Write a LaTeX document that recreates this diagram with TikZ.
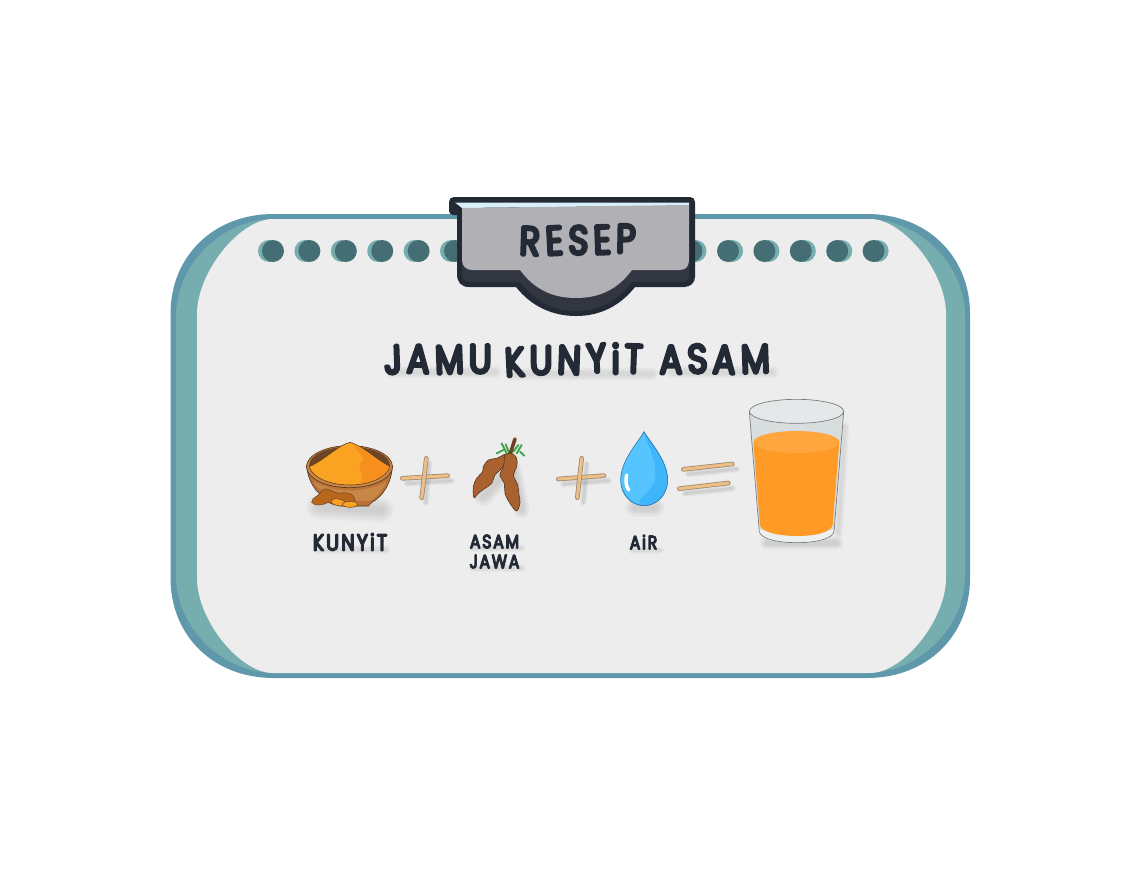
\documentclass[tikz,border=0pt]{standalone}
\usepackage{fontspec}
\newfontfamily\hand[UprightFont=* Light,FakeBold=9,FakeStretch=.84]{Poppins}
\newfontfamily\handS[UprightFont=* Light,FakeBold=8,FakeStretch=.84,LetterSpace=11]{Poppins}
\usetikzlibrary{calc}
\definecolor{cBlue}{HTML}{6098AB}
\definecolor{cTeal}{HTML}{76ADAF}
\definecolor{cCard}{HTML}{EDEDED}
\definecolor{cDot}{HTML}{456E74}
\definecolor{cInk}{HTML}{232A36}
\definecolor{cBand}{HTML}{313640}
\definecolor{cTag}{HTML}{B1B0B5}
\definecolor{cHi}{HTML}{D8F0FA}
\definecolor{cStick}{HTML}{EDBE85}
\definecolor{cStickE}{HTML}{A08B73}
\definecolor{cBowl}{HTML}{B8723A}
\definecolor{cBowlL}{HTML}{C98746}
\definecolor{cBowlD}{HTML}{6E4526}
\definecolor{cOr}{HTML}{FAA322}
\definecolor{cOrD}{HTML}{F78F1E}
\definecolor{cPod}{HTML}{A9622F}
\definecolor{cPodE}{HTML}{5E3A20}
\definecolor{cLeaf}{HTML}{3DA34A}
\definecolor{cDrop}{HTML}{3FB5FC}
\definecolor{cDropL}{HTML}{55C4FF}
\definecolor{cJuice}{HTML}{FF9A27}
\definecolor{cJuiceT}{HTML}{FFA63F}
\definecolor{cGlass}{HTML}{D8DEDE}
\newcommand\cardshape[8]{% fill, l,t,r,b,rx,ry,k
  \fill[#1] (#2,#3+#7) .. controls (#2,#3+#7*#8) and (#2+#6*#8,#3) .. (#2+#6,#3)
   -- (#4-#6,#3) .. controls (#4-#6*#8,#3) and (#4,#3+#7*#8) .. (#4,#3+#7)
   -- (#4,#5-#7) .. controls (#4,#5-#7*#8) and (#4-#6*#8,#5) .. (#4-#6,#5)
   -- (#2+#6,#5) .. controls (#2+#6*#8,#5) and (#2,#5-#7*#8) .. (#2,#5-#7) -- cycle;}
\newcommand\softbar[3]{% from, to, base width (px)
  \foreach \w in {1,1.5,2,2.5,3,3.5}{
    \draw[black,opacity=.018,line cap=round,line width=#3*\w*.3pt] #1 -- #2;}}
\newcommand\softtext[3]{%
  \foreach \w in {1,1.5,2,2.5,3,3.5,4}{
    \draw[black,opacity=.012,line cap=round,line width=#3*\w*.3pt] #1 -- #2;}}
\newcommand\stick[2]{%
  \draw[cStickE,line width=3.5pt,line cap=round] #1 -- #2;
  \draw[cStick,line width=2.3pt,line cap=round] #1 -- #2;}
\newcommand\jl[3]{\raisebox{#1pt}{\rotatebox[origin=c]{#2}{#3}}\kern3.8pt}
\tikzset{
  hd/.style={text=cInk,inner sep=0pt,align=center},
  dotdark/.style={fill=cDot},
  dotlight/.style={fill=cTeal},
}
\begin{document}
\begin{tikzpicture}[x=.75pt,y=-.75pt]
\useasboundingbox (0,0) rectangle (1141,874);
\fill[white] (0,0) rectangle (1141,874);
% board
\cardshape{cBlue}{170.5}{214}{970}{678}{103}{100}{.42}
\cardshape{cTeal}{176}{219}{965}{673}{98}{97}{.47}
\cardshape{cCard}{197}{219}{946}{673}{76}{95}{.56}
% rings
\foreach \c in {273,309.4,345.8,382.2,418.6,455}{
  \fill[dotlight] (\c-4,251) circle (11);
  \fill[dotdark] (\c,251) circle (11);}
\foreach \c in {691.5,728,764.4,800.8,837.2,873.6}{
  \fill[dotlight] (\c+4,251) circle (11);
  \fill[dotdark] (\c,251) circle (11);}
% tag
\fill[cInk] (454,197) -- (690,197) .. controls (693,197) and (695,199) .. (695,202) -- (695,277)
  .. controls (695,283) and (690,287) .. (684,287) -- (635,287)
  .. controls (620,306) and (600,316) .. (576,316) .. controls (552,316) and (531,306) .. (516,287)
  -- (469,287) .. controls (461,287) and (457,282) .. (457,274) -- (457,215) -- (453,215)
  .. controls (451,215) and (449,213) .. (449,211) -- (449,202) .. controls (449,199) and (451,197) .. (454,197) -- cycle;
\fill[cBand] (462,205) -- (689,205) -- (689,276) .. controls (689,280) and (686,282) .. (682,282) -- (632,282)
  .. controls (618,300) and (600,311) .. (576,311) .. controls (552,311) and (534,300) .. (520,282)
  -- (470,282) .. controls (465,282) and (462,279) .. (462,275) -- cycle;
\fill[cHi] (455,202.5) -- (689,202.5) -- (689,205.5) -- (462,208) -- cycle;
\fill[cTag] (462,208) -- (689,205) -- (689,260) .. controls (689,266) and (686,270) .. (680,270) -- (632,270)
  .. controls (618,289) and (600,298) .. (576,298) .. controls (552,298) and (534,289) .. (520,270)
  -- (472,270) .. controls (466,270) and (462,266) .. (462,260) -- cycle;
\node[hd,font=\hand\fontsize{30pt}{30pt}\selectfont,rotate=1] (resep) at (580,240) {\pgfsetroundjoin\pgfsetroundcap \jl{0}{-3}{R}\jl{0}{2}{E}\jl{0}{-2}{S}\jl{0}{1}{E}\jl{.5}{-2}{P}};
% title
\softtext{(392,372)}{(495,372)}{9}
\softtext{(512,374)}{(652,374)}{9}
\softtext{(672,372)}{(772,372)}{9}
\node[hd,font=\hand\fontsize{30pt}{30pt}\selectfont] (title) at (579.5,360) {\pgfsetroundjoin\pgfsetroundcap \jl{0}{2}{J}\jl{.5}{-2}{A}\jl{0}{2}{M}\jl{.5}{0}{U}\hspace{6pt}\jl{-2}{3}{K}\jl{-.5}{0}{U}\jl{-.5}{-2}{N}\jl{1}{3}{Y}\jl{0}{0}{i}\jl{.5}{-2}{T}\hspace{9pt}\jl{0}{0}{A}\jl{.5}{3}{S}\jl{0}{-2}{A}\jl{.5}{2}{M}};
% bowl
\begin{scope}[shift={(295,425)},x=.25pt,y=-.25pt]
  \softbar{(70,245)}{(260,255)}{18}
  \draw[cBowlD!80!black,fill=cBowl,line width=.5pt] (35,120) .. controls (40,190) and (85,225) .. (130,235) -- (135,243) -- (220,243) -- (230,232)
     .. controls (265,215) and (290,170) .. (292,125) -- cycle;
  \fill[cBowlL] (55,170) .. controls (120,205) and (210,205) .. (275,170) .. controls (258,205) and (235,222) .. (225,228) -- (135,225) .. controls (100,215) and (72,195) .. (55,170) -- cycle;
  \draw[cBowlD!80!black,fill=cBowlL,line width=.5pt] (163.5,125) ellipse (129 and 63);
  \fill[cBowlD] (163.5,120) ellipse (121 and 55);
  \draw[cBowlD!80!black,fill=cOr,line width=.4pt] (42,125) .. controls (85,108) and (130,60) .. (165,52)
     .. controls (200,60) and (240,100) .. (285,125)
     .. controls (272,162) and (215,180) .. (165,180) .. controls (110,180) and (55,162) .. (42,125) -- cycle;
  \fill[cOrD] (175,58) .. controls (200,70) and (240,100) .. (283,126) .. controls (272,152) and (235,170) .. (195,175)
     .. controls (215,140) and (175,125) .. (205,105) .. controls (200,85) and (185,80) .. (175,58) -- cycle;
  \draw[cBowlD,fill=cBowl!55!orange!85!black,line width=.4pt] (50,232) .. controls (50,215) and (75,215) .. (82,195) .. controls (95,185) and (110,200) .. (130,205)
     .. controls (150,200) and (180,205) .. (180,225) .. controls (170,245) and (120,245) .. (100,232) .. controls (85,240) and (60,245) .. (50,232) -- cycle;
  \draw[cBowlD,fill=cOr,line width=.4pt,rotate around={-10:(130,232)}] (130,232) ellipse (22 and 10);
  \draw[cBowlD,fill=cOr,line width=.4pt] (165,238) ellipse (23 and 9);
  % plus one
  \softbar{(335,175)}{(470,167)}{5}
  \softbar{(402,115)}{(392,232)}{5}
  \stick{(322,160)}{(458,152)}
  \stick{(394,100)}{(380,218)}
  % tamarind
  \softbar{(565,215)}{(640,135)}{14}
  \softbar{(655,130)}{(680,255)}{12}
  \draw[cPodE,line width=.5pt,fill=cPod] plot[smooth cycle,tension=.6] coordinates {(632,88)(605,100)(580,105)(565,125)(563,140)(545,160)(535,185)(537,218)(550,205)(570,190)(590,175)(600,150)(620,130)(632,110)};
  \foreach \a/\b/\c/\d in {605/85/625/75,620/55/635/85,632/58/642/82,665/85/680/60,675/80/688/92,655/80/670/60}{
    \draw[cLeaf,line width=1.4pt,line cap=round] (\a,\b) -- (\c,\d);}
  \draw[cPodE!80!cPod,line width=2.7pt,line cap=round] (660,42) -- (645,88);
  \draw[cPodE,line width=.5pt,fill=cPod] plot[smooth cycle,tension=.6] coordinates {(630,90)(650,85)(665,100)(665,125)(655,150)(668,180)(672,210)(675,232)(665,258)(645,235)(630,205)(628,175)(615,150)(625,125)(628,105)};
\end{scope}
% labels
\softtext{(318,550)}{(386,550)}{6}
\node[hd,font=\handS\fontsize{17pt}{17pt}\selectfont] (kunyit) at (350,542) {\pgfsetroundjoin\pgfsetroundcap KUNYiT};
\softtext{(472,548)}{(522,548)}{5}
\softtext{(472,568)}{(522,568)}{5}
\node[hd,font=\handS\fontsize{14pt}{14pt}\selectfont,align=center] (asam) at (494.5,551.5) {\pgfsetroundjoin\pgfsetroundcap ASAM\\[1pt]\pgfsetroundjoin\pgfsetroundcap JAWA};
\softtext{(632,550)}{(660,550)}{5}
\node[hd,font=\handS\fontsize{14pt}{14pt}\selectfont] (air) at (643.5,542) {\pgfsetroundjoin\pgfsetroundcap AiR};
% right half
\begin{scope}[shift={(550,390)},x=.25pt,y=-.25pt]
  \softbar{(40,282)}{(175,272)}{5}
  \softbar{(110,222)}{(100,337)}{5}
  \stick{(25,267)}{(162,257)}
  \stick{(95,205)}{(82,323)}
  % drop
  \softbar{(255,352)}{(315,352)}{14}
  \draw[cDrop!50!black!70!cDrop,fill=cDrop,line width=.5pt] (282,125) .. controls (270,150) and (212,210) .. (212,270)
     .. controls (212,315) and (245,347) .. (282,347) .. controls (320,347) and (353,315) .. (353,270)
     .. controls (353,210) and (295,150) .. (282,125) -- cycle;
  \fill[cDropL] (282,130) .. controls (270,150) and (214,210) .. (214,270) .. controls (214,310) and (245,340) .. (275,342)
     .. controls (250,330) and (290,320) .. (310,280) .. controls (330,240) and (300,180) .. (282,130) -- cycle;
  \draw[white,line width=2.6pt,line cap=round] (230,255) .. controls (226,270) and (228,290) .. (236,300);
  % equals
  \softbar{(415,252)}{(560,237)}{5}
  \softbar{(405,310)}{(548,295)}{5}
  \stick{(400,238)}{(547,222)}
  \stick{(388,296)}{(535,279)}
  % glass
  \softbar{(650,460)}{(860,460)}{10}
  \softtext{(885,110)}{(865,430)}{6}
  \draw[cGlass!55!black,fill=cGlass,line width=.5pt] (598,66) -- (628,425) .. controls (632,445) and (680,458) .. (740,458)
     .. controls (800,458) and (848,445) .. (852,425) -- (881,66) -- cycle;
  \fill[white!55!cGlass] (628,420) .. controls (632,445) and (680,456) .. (740,456) .. controls (800,456) and (848,445) .. (851,420) -- cycle;
  \fill[cJuice] (610,156) -- (630,405) .. controls (634,428) and (690,438) .. (740,438) .. controls (795,438) and (842,428) .. (848,405) -- (868,156) -- cycle;
  \fill[cJuiceT] (739.5,156) ellipse (129 and 33);
  \draw[cGlass!55!black,fill=white!30!cGlass,line width=.5pt] (739.5,64) ellipse (141.5 and 36);
\end{scope}
\end{tikzpicture}
\end{document}
